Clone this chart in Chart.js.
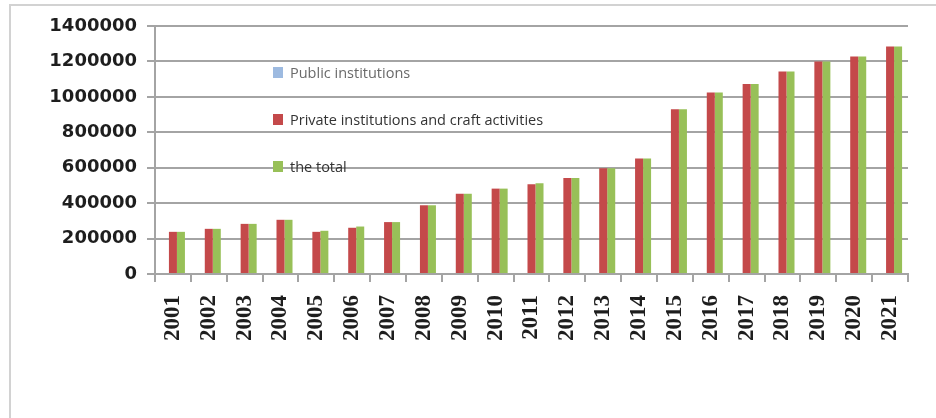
<!DOCTYPE html>
<html>
<head>
<meta charset="utf-8">
<script src="https://cdn.jsdelivr.net/npm/chart.js@4"></script>
<style>
  body { margin: 0; background: #fff; }
  #wrap { position: relative; width: 936px; height: 418px; overflow: hidden; }
  #frame {
    position: absolute; left: 9px; top: 4px; width: 930px; height: 420px;
    border-top: 2px solid #d2d2d2; border-left: 2px solid #d2d2d2;
  }
  #chart { position: absolute; left: 0; top: 0; }
  #legend {
    position: absolute; left: 273px; top: 63px;
    font-family: "Open Sans", sans-serif; font-size: 14.5px; color: #333;
  }
  #legend .item { display: flex; align-items: center; height: 18px; margin-bottom: 29px; white-space: nowrap; }
  #legend .box { width: 10px; height: 11px; margin-right: 7px; }
</style>
</head>
<body>
<div id="wrap">
  <div id="frame"></div>
  <canvas id="chart" width="936" height="418"></canvas>
  <div id="legend"></div>
</div>
<script>
const years = ["2001", "2002", "2003", "2004", "2005", "2006", "2007", "2008", "2009", "2010", "2011",
  "2012", "2013", "2014", "2015", "2016", "2017", "2018", "2019", "2020", "2021"];

const publicInstitutions = [0, 0, 0, 0, 0, 0, 0, 0, 0, 0, 0, 0, 0, 0, 0, 0, 0, 0, 0, 0, 0];

const privateInstitutions = [238000, 255000, 283000, 306000, 238000, 261000, 293000, 388000, 453000, 482000, 506000,
  542000, 597000, 652000, 930000, 1025000, 1072000, 1143000, 1200000, 1228000, 1284000];

const theTotal = [238000, 255000, 283000, 306000, 244000, 268000, 293000, 388000, 453000, 482000, 513000,
  542000, 597000, 652000, 930000, 1025000, 1072000, 1143000, 1200000, 1228000, 1284000];

const seriesNames = ["Public institutions", "Private institutions and craft activities", "the total"];

const gridGray = "#a4a4a4";

const chart = new Chart(document.getElementById("chart"), {
  type: "bar",
  data: {
    labels: years,
    datasets: [
      { label: seriesNames[0], data: publicInstitutions, backgroundColor: "#9dbae0" },
      { label: seriesNames[1], data: privateInstitutions, backgroundColor: "#c4494a" },
      { label: seriesNames[2], data: theTotal, backgroundColor: "#98c058" },
    ]
  },
  options: {
    responsive: false,
    animation: false,
    layout: { padding: { left: 10, top: 26, right: 28, bottom: 0 } },
    datasets: { bar: { categoryPercentage: 0.67, barPercentage: 1.0 } },
    plugins: { legend: { display: false }, tooltip: { enabled: false } },
    scales: {
      x: {
        offset: true,
        grid: { drawOnChartArea: false, color: gridGray, lineWidth: 2, tickLength: 8, offset: true },
        border: { color: gridGray, width: 2 },
        ticks: {
          minRotation: 90, maxRotation: 90, autoSkip: false, padding: 13, color: "#1e1e1e",
          font: { family: "Liberation Serif", weight: "bold", size: 23 }
        },
        afterFit(scale) { scale.height = 144; }
      },
      y: {
        min: 0,
        max: 1400000,
        grid: { color: gridGray, lineWidth: 2, tickLength: 8 },
        border: { color: gridGray, width: 2 },
        ticks: {
          stepSize: 200000, padding: 10, color: "#1e1e1e",
          font: { family: "DejaVu Sans", weight: "bold", size: 18 },
          callback: v => String(v)
        },
        afterFit(scale) { scale.width = 145; }
      }
    }
  }
});

// legend sits inside the plot, one entry per dataset
const legendEl = document.getElementById("legend");
chart.data.datasets.forEach((ds, i) => {
  const item = document.createElement("div");
  item.className = "item";
  item.innerHTML = `<span class="box" style="background:${ds.backgroundColor}"></span><span>${ds.label}</span>`;
  if (i === 0) item.style.color = "#6a6a6a";
  legendEl.appendChild(item);
});
</script>
</body>
</html>
